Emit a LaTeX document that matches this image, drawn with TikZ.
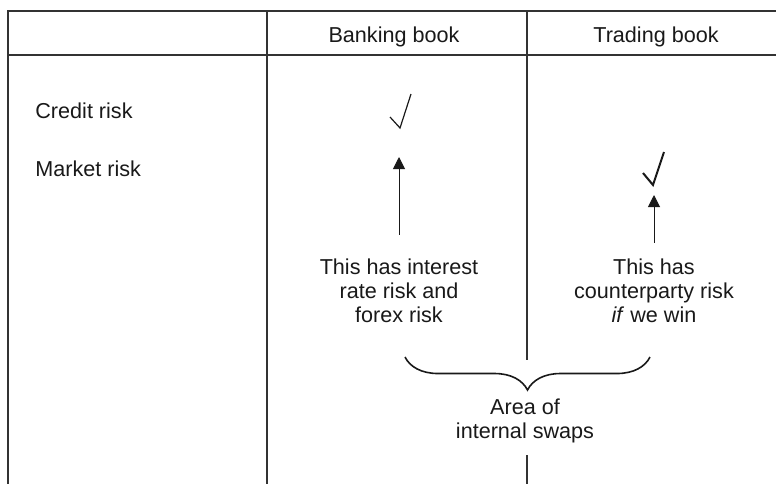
\documentclass[tikz,border=0pt]{standalone}
\usepackage{fontspec}
\setmainfont{Liberation Sans}
\usepackage{tikz}
\usetikzlibrary{arrows.meta,positioning,decorations.pathreplacing}

\begin{document}
\begin{tikzpicture}[
  x=0.5pt, y=-0.5pt,
  rule/.style={line width=0.7pt, black!80},
  txt/.style={font=\fontsize{10.8}{12}\selectfont, text=black!90, inner sep=2pt},
  note/.style={txt, align=center},
  arr/.style={-{Triangle[width=6pt,length=6pt]}, line width=0.5pt, black!90},
  tick/.style={line width=0.6pt, black!90},
  brc/.style={decorate, decoration={brace, amplitude=16.5pt}, line width=0.8pt, black!90},
]
\useasboundingbox (0,0) rectangle (776,484);

% table rules
\draw[rule] (776,11) -- (8,11) -- (8,484);
\draw[rule] (8,55) -- (776,55);
\draw[rule] (267,11) -- (267,484);
\draw[rule] (527,11) -- (527,360);
\draw[rule] (527,455) -- (527,484);

% headings and rows
\node[txt, anchor=base] (bank)   at (394,42)  {Banking book};
\node[txt, anchor=base] (trade)  at (656,42)  {Trading book};
\node[txt, anchor=base west] (credit) at (31,118) {Credit risk};
\node[txt, anchor=base west] (market) at (31,176) {Market risk};

% ticks
\draw[tick] (390,117) -- (400,128) -- (411,94);
\draw[tick, line width=1pt] (643,173) -- (653,185) -- (664,152);

% notes
\node[note] (irtxt) at (399,291) {This has interest\\rate risk and\\forex risk};
\node[note] (cptxt) at (654,291) {This has\\counterparty risk\\\textit{if} we win};
\node[note] (swaps) at (525,421) {Area of\\internal swaps};

\coordinate (bankmkt)  at (399,157);
\coordinate (trademkt) at (654,195);
\draw[arr] ([yshift=10pt]irtxt.north) -- (bankmkt);
\draw[arr] ([yshift=6pt]cptxt.north)  -- (trademkt);

\coordinate (swl) at (405,357);
\coordinate (swr) at (650,357);
\draw[brc] (swr) -- (swl);
\end{tikzpicture}
\end{document}
